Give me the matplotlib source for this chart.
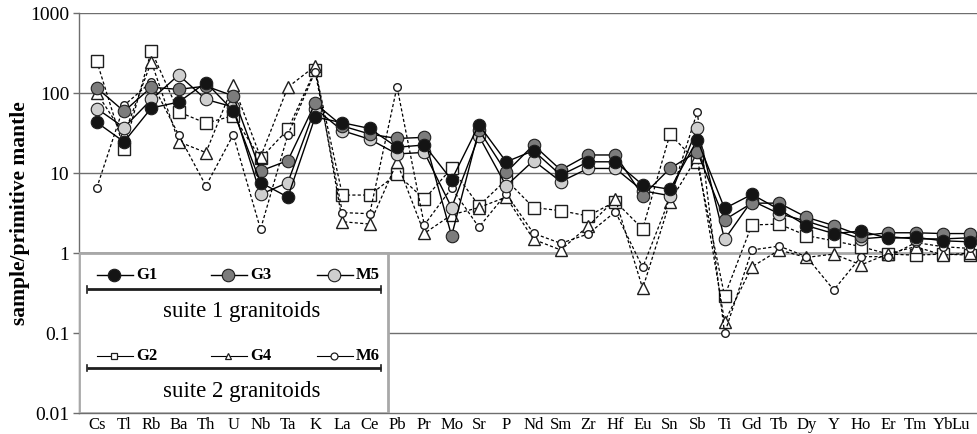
import numpy as np
import matplotlib
matplotlib.use("Agg")
import matplotlib.pyplot as plt
from matplotlib.patches import Rectangle

plt.rcParams['font.family'] = ['Liberation Serif', 'DejaVu Serif']

# element order of the spider diagram
elements = ['Cs', 'Tl', 'Rb', 'Ba', 'Th', 'U', 'Nb', 'Ta', 'K', 'La', 'Ce',
            'Pb', 'Pr', 'Mo', 'Sr', 'P', 'Nd', 'Sm', 'Zr', 'Hf', 'Eu', 'Sn',
            'Sb', 'Ti', 'Gd', 'Tb', 'Dy', 'Y', 'Ho', 'Er', 'Tm', 'Yb', 'Lu']

# suite 1 granitoids (normalised to primitive mantle)
G1 = [43, 24.5, 65, 77, 135, 60, 7.6, 5.0, 50, 42.5, 36,
      21, 22.4, 8.2, 40, 13.8, 19, 9.4, 13.8, 13.8, 7.1, 6.25,
      26, 3.6, 5.4, 3.5, 2.2, 1.75, 1.88, 1.53, 1.57, 1.42, 1.38]
G3 = [116, 59, 118, 111, 122, 92, 10.6, 14.3, 74, 38.7, 30.7,
      27, 27.9, 1.64, 34.5, 10.2, 22.4, 10.9, 16.8, 16.8, 5.2, 11.4,
      18.5, 2.6, 4.2, 4.2, 2.8, 2.2, 1.65, 1.79, 1.79, 1.75, 1.75]
M5 = [64, 37, 83, 168, 83, 67, 5.4, 7.6, 64, 33.8, 26.4,
      17.3, 18.1, 3.7, 29, 6.9, 14.3, 7.8, 11.4, 11.4, 6.0, 5.2,
      36.7, 1.48, 4.5, 3.1, 2.5, 1.95, 1.5, 1.6, 1.5, 1.5, 1.55]

# suite 2 granitoids
G2 = [251, 20, 338, 58, 42, 52, 15.2, 35, 194, 5.3, 5.3,
      9.7, 4.7, 11.5, 3.9, 8.2, 3.7, 3.38, 2.9, 4.4, 2.0, 30.6,
      13.6, 0.29, 2.24, 2.3, 1.65, 1.42, 1.2, 0.97, 0.94, 0.97, 0.94]
G4 = [100, 30, 246, 24.6, 18, 126, 15.8, 118, 217, 2.46, 2.3,
      13.6, 1.76, 3.0, 3.7, 5.0, 1.48, 1.09, 2.17, 4.7, 0.36, 4.4,
      16, 0.138, 0.67, 1.09, 0.88, 0.97, 0.71, 0.98, 1.2, 0.94, 1.0]
M6 = [6.5, 70, 138, 30, 6.9, 30, 1.98, 30, 185, 3.2, 3.1,
      120, 2.24, 6.5, 2.1, 5.5, 1.76, 1.32, 1.73, 3.28, 0.66, 4.9,
      58, 0.099, 1.09, 1.22, 0.9, 0.345, 0.9, 0.9, 1.35, 1.2, 1.14]

x = np.arange(len(elements))
dash = (0, (2.5, 1.8))
edge = '#1e1e1e'

fig = plt.figure(figsize=(9.77, 4.34), dpi=100)
ax = fig.add_axes([79 / 977, 21 / 434, 909 / 977, 400 / 434])
ax.set_yscale('log')
ax.set_ylim(0.01, 1000)
ax.set_xlim(-0.65, 32.65)

# horizontal grid
for v in [1000, 100, 10, 0.1]:
    ax.axhline(v, color='#6e6e6e', lw=1.0, zorder=1)
ax.axhline(1, color='#a8a8a8', lw=2.0, zorder=1)

# suite 2: dashed, open symbols
ax.plot(x, G2, linestyle=dash, color='k', lw=0.9, marker='s', ms=9,
        mfc='white', mec=edge, mew=1.0, zorder=4)
ax.plot(x, G4, linestyle=dash, color='k', lw=0.9, marker='^', ms=9,
        mfc='white', mec=edge, mew=1.0, zorder=4)
ax.plot(x, M6, linestyle=dash, color='k', lw=0.9, marker='o', ms=5.5,
        mfc='white', mec=edge, mew=1.0, zorder=4)

# suite 1: solid, filled circles
ax.plot(x, M5, '-', color='k', lw=1.0, marker='o', ms=9,
        mfc='#cfcfcf', mec=edge, mew=0.8, zorder=5)
ax.plot(x, G3, '-', color='k', lw=1.0, marker='o', ms=9,
        mfc='#7c7c7c', mec=edge, mew=0.8, zorder=5)
ax.plot(x, G1, '-', color='k', lw=1.0, marker='o', ms=9,
        mfc='#141414', mec=edge, mew=0.8, zorder=5)

# axes styling
for s in ['top', 'right']:
    ax.spines[s].set_visible(False)
ax.spines['left'].set_color('#6e6e6e')
ax.spines['bottom'].set_color('#6e6e6e')
ax.spines['left'].set_linewidth(1.0)
ax.spines['bottom'].set_linewidth(1.0)

ax.set_yticks([0.01, 0.1, 1, 10, 100, 1000])
ax.set_yticklabels(['0.01', '0.1', '1', '10', '100', '1000'], fontsize=14)
ax.yaxis.set_minor_locator(matplotlib.ticker.NullLocator())
ax.tick_params(axis='y', length=4, width=1, color='#6e6e6e', pad=3)
ax.set_xticks(x)
ax.set_xticklabels(elements, fontsize=12)
ax.tick_params(axis='x', length=0, pad=3)
# last two labels sit at the figure edge, nudge them inside
labels = ax.get_xticklabels()
labels[-1].set_horizontalalignment('right')
labels[-1].set_x(x[-1] + 0.2)
labels[-2].set_x(x[-2] - 0.15)
ax.set_ylabel('sample/primitive mantle', fontsize=15.5, fontweight='bold',
              labelpad=0)

# legend panel in the lower left corner (from 0.01 up to 1)
ta = ax.transAxes
box = Rectangle((0, 0), 0.34, 0.4, transform=ta, facecolor='white',
                edgecolor='#a8a8a8', lw=2.0, zorder=3)
ax.add_patch(box)

suite1 = [('G1', '#141414'), ('G3', '#7c7c7c'), ('M5', '#cfcfcf')]
suite2 = [('G2', 's'), ('G4', '^'), ('M6', 'o')]
xs = [0.0198, 0.1452, 0.2618]
for (name, fc), x0 in zip(suite1, xs):
    ax.plot([x0, x0 + 0.0396], [0.345, 0.345], '-', color='k', lw=1.0,
            transform=ta, zorder=6, clip_on=False)
    ax.plot([x0 + 0.0186], [0.345], 'o', ms=9, mfc=fc, mec=edge, mew=0.8,
            transform=ta, zorder=7, clip_on=False)
    ax.text(x0 + 0.043, 0.345, name, transform=ta, fontsize=12,
            fontweight='bold', va='center', ha='left', zorder=7)
for (name, mk), x0 in zip(suite2, xs):
    ax.plot([x0, x0 + 0.0396], [0.1425, 0.1425], '-', color='k', lw=0.8,
            transform=ta, zorder=6, clip_on=False)
    ax.plot([x0 + 0.0186], [0.1425], mk, ms=5, mfc='white', mec=edge,
            mew=0.9, transform=ta, zorder=7, clip_on=False)
    ax.text(x0 + 0.043, 0.1425, name, transform=ta, fontsize=12,
            fontweight='bold', va='center', ha='left', zorder=7)

for yb, yt, label in [(0.309, 0.253, 'suite 1 granitoids'),
                      (0.112, 0.053, 'suite 2 granitoids')]:
    ax.plot([0.0085, 0.332], [yb, yb], '-', color='#1e1e1e', lw=2.0,
            transform=ta, zorder=6, solid_capstyle='butt')
    for xe in [0.0085, 0.332]:
        ax.plot([xe, xe], [yb - 0.008, yb + 0.008], '-', color='#1e1e1e',
                lw=1.2, transform=ta, zorder=6)
    ax.text(0.179, yt, label, transform=ta, fontsize=16.5, ha='center',
            va='center', zorder=7)

fig.savefig('out.png', dpi=100)
